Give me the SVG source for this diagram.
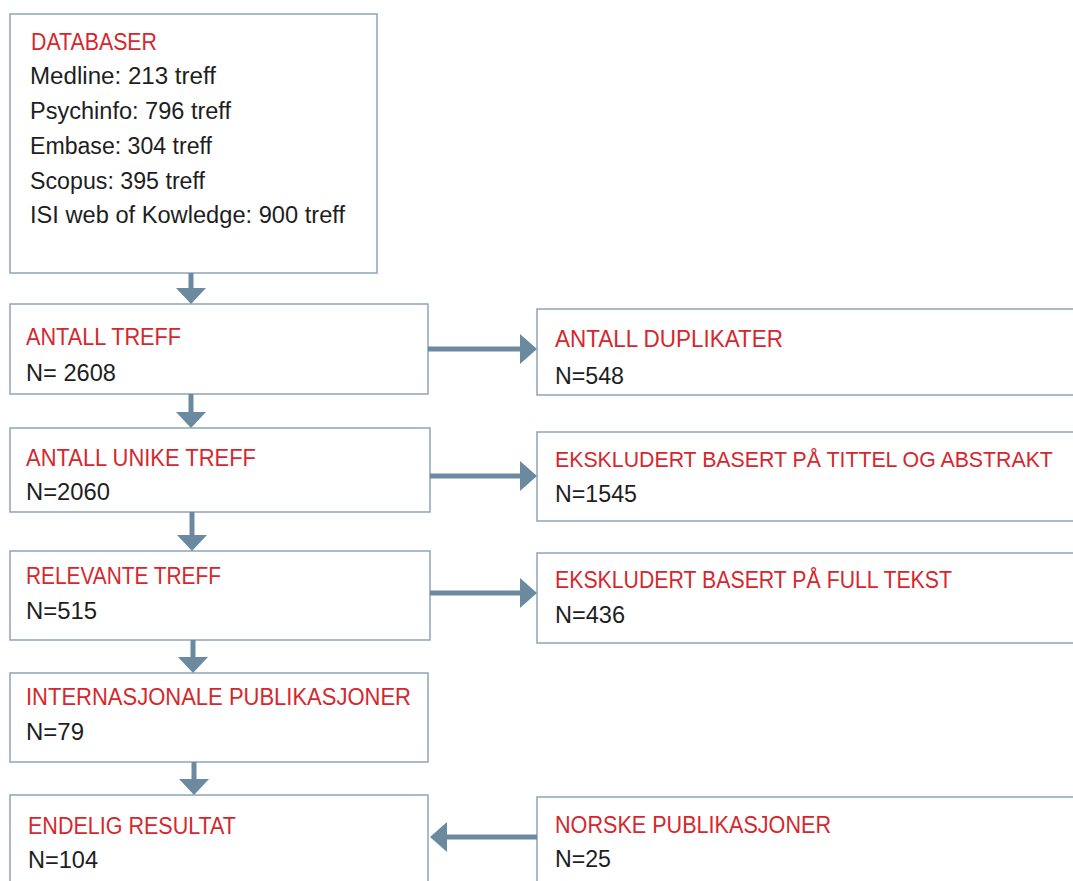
<svg xmlns="http://www.w3.org/2000/svg" width="1073" height="881" viewBox="0 0 1073 881">
<style>
.box{fill:#fff;stroke:#8da5b9;stroke-width:1.5}
.t{font-family:"Liberation Sans",Arial,sans-serif;font-size:23px;fill:#1e1e1e}
.r{fill:#d5272d}
.sh{stroke:#6b8aa0;stroke-width:5;fill:none}
.hd{fill:#6b8aa0}
</style>
<rect width="1073" height="881" fill="#fff"/>
<g id="databaser">
<rect class="box" x="10" y="14" width="367" height="259"/>
<text class="t r" x="31" y="50" textLength="126" lengthAdjust="spacingAndGlyphs">DATABASER</text>
<text class="t" x="30" y="84" textLength="186" lengthAdjust="spacingAndGlyphs">Medline: 213 treff</text>
<text class="t" x="30" y="119" textLength="201" lengthAdjust="spacingAndGlyphs">Psychinfo: 796 treff</text>
<text class="t" x="30" y="154" textLength="182" lengthAdjust="spacingAndGlyphs">Embase: 304 treff</text>
<text class="t" x="30" y="189" textLength="175" lengthAdjust="spacingAndGlyphs">Scopus: 395 treff</text>
<text class="t" x="30" y="223" textLength="315" lengthAdjust="spacingAndGlyphs">ISI web of Kowledge: 900 treff</text>
</g>
<g id="antall-treff">
<rect class="box" x="10" y="304" width="418" height="90"/>
<text class="t r" x="26" y="345" textLength="155" lengthAdjust="spacingAndGlyphs">ANTALL TREFF</text>
<text class="t" x="26" y="381" textLength="90" lengthAdjust="spacingAndGlyphs">N= 2608</text>
</g>
<g id="antall-unike">
<rect class="box" x="10" y="428" width="420" height="84"/>
<text class="t r" x="26" y="466" textLength="230" lengthAdjust="spacingAndGlyphs">ANTALL UNIKE TREFF</text>
<text class="t" x="26" y="500" textLength="84" lengthAdjust="spacingAndGlyphs">N=2060</text>
</g>
<g id="relevante">
<rect class="box" x="10" y="551" width="420" height="89"/>
<text class="t r" x="26" y="584" textLength="195" lengthAdjust="spacingAndGlyphs">RELEVANTE TREFF</text>
<text class="t" x="26" y="619" textLength="71" lengthAdjust="spacingAndGlyphs">N=515</text>
</g>
<g id="internasjonale">
<rect class="box" x="10" y="673" width="418" height="89"/>
<text class="t r" x="26" y="705" textLength="385" lengthAdjust="spacingAndGlyphs">INTERNASJONALE PUBLIKASJONER</text>
<text class="t" x="26" y="740" textLength="58" lengthAdjust="spacingAndGlyphs">N=79</text>
</g>
<g id="endelig">
<rect class="box" x="10" y="795" width="418" height="100"/>
<text class="t r" x="28" y="834" textLength="208" lengthAdjust="spacingAndGlyphs">ENDELIG RESULTAT</text>
<text class="t" x="28" y="868" textLength="70" lengthAdjust="spacingAndGlyphs">N=104</text>
</g>
<g id="duplikater">
<rect class="box" x="537" y="309" width="550" height="86"/>
<text class="t r" x="555" y="347" textLength="228" lengthAdjust="spacingAndGlyphs">ANTALL DUPLIKATER</text>
<text class="t" x="555" y="384" textLength="69" lengthAdjust="spacingAndGlyphs">N=548</text>
</g>
<g id="ekskl-abstrakt">
<rect class="box" x="537" y="432" width="550" height="89"/>
<text class="t r" x="555" y="467" style="font-size:21.3px">EKSKLUDERT BASERT PÅ TITTEL OG ABSTRAKT</text>
<text class="t" x="555" y="502" textLength="82" lengthAdjust="spacingAndGlyphs">N=1545</text>
</g>
<g id="ekskl-fulltekst">
<rect class="box" x="537" y="553" width="550" height="90"/>
<text class="t r" x="555" y="588" textLength="397" lengthAdjust="spacingAndGlyphs">EKSKLUDERT BASERT PÅ FULL TEKST</text>
<text class="t" x="555" y="623" textLength="70" lengthAdjust="spacingAndGlyphs">N=436</text>
</g>
<g id="norske">
<rect class="box" x="537" y="797" width="550" height="100"/>
<text class="t r" x="555" y="833" textLength="276" lengthAdjust="spacingAndGlyphs">NORSKE PUBLIKASJONER</text>
<text class="t" x="555" y="867" textLength="56" lengthAdjust="spacingAndGlyphs">N=25</text>
</g>
<g id="connectors">
<line class="sh" x1="191" y1="273" x2="191" y2="289"/>
<polygon class="hd" points="176,288 206,288 191,304"/>
<line class="sh" x1="191" y1="394" x2="191" y2="413"/>
<polygon class="hd" points="176,412 206,412 191,428"/>
<line class="sh" x1="192" y1="512" x2="192" y2="536"/>
<polygon class="hd" points="177,535 207,535 192,551"/>
<line class="sh" x1="193" y1="640" x2="193" y2="658"/>
<polygon class="hd" points="178,657 208,657 193,673"/>
<line class="sh" x1="194" y1="762" x2="194" y2="780"/>
<polygon class="hd" points="179,779 209,779 194,795"/>
<line class="sh" x1="428" y1="349" x2="521" y2="349"/>
<polygon class="hd" points="520,334 520,364 537,349"/>
<line class="sh" x1="430" y1="476" x2="521" y2="476"/>
<polygon class="hd" points="520,461 520,491 537,476"/>
<line class="sh" x1="430" y1="593" x2="521" y2="593"/>
<polygon class="hd" points="520,578 520,608 537,593"/>
<line class="sh" x1="537" y1="837" x2="446" y2="837"/>
<polygon class="hd" points="447,822 447,852 430,837"/>
</g>
</svg>
